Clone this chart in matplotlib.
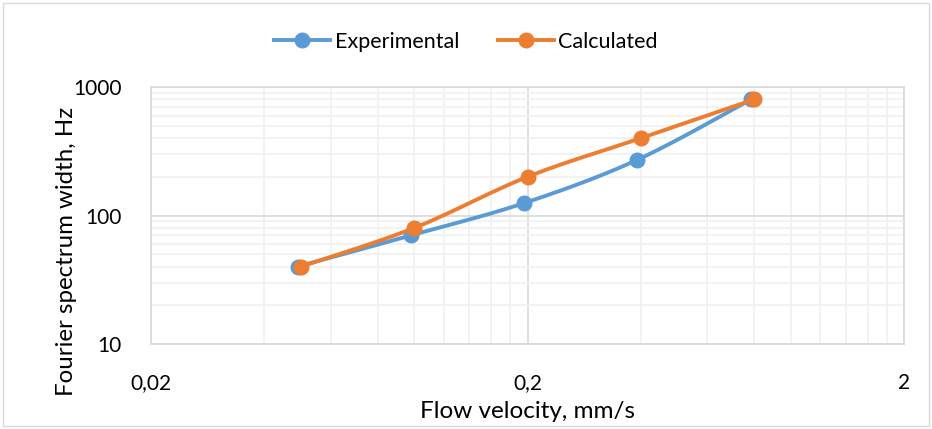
import numpy as np
import matplotlib.pyplot as plt
from matplotlib.ticker import FixedLocator, FixedFormatter, NullFormatter
from matplotlib.patches import Rectangle

# measured vs. calculated spectrum width
exp_velocity = [0.049, 0.098, 0.196, 0.39, 0.785]
exp_width = [40, 70, 125, 270, 800]
calc_velocity = [0.05, 0.1, 0.2, 0.4, 0.8]
calc_width = [40, 80, 200, 400, 800]

x_ticks = [0.02, 0.2, 2]
x_tick_labels = ["0,02", "0,2", "2"]
y_ticks = [10, 100, 1000]
y_tick_labels = ["10", "100", "1000"]

BLUE = "#5B9BD5"
ORANGE = "#ED7D31"
LW = 2.8
MS = 10.5


def smooth(xs, ys, n=30):
    # Catmull-Rom spline through the points in log-log space
    lx = np.log10(xs)
    ly = np.log10(ys)
    px = np.concatenate([[lx[0]], lx, [lx[-1]]])
    py = np.concatenate([[ly[0]], ly, [ly[-1]]])
    out_x, out_y = [], []
    for i in range(1, len(px) - 2):
        t = np.linspace(0, 1, n)
        for p, out in ((px, out_x), (py, out_y)):
            p0, p1, p2, p3 = p[i - 1], p[i], p[i + 1], p[i + 2]
            seg = 0.5 * ((2 * p1) + (-p0 + p2) * t
                         + (2 * p0 - 5 * p1 + 4 * p2 - p3) * t ** 2
                         + (-p0 + 3 * p1 - 3 * p2 + p3) * t ** 3)
            out.extend(seg)
    return 10 ** np.array(out_x), 10 ** np.array(out_y)


plt.rcParams["font.family"] = ["Lato", "DejaVu Sans"]

fig = plt.figure(figsize=(9.32, 4.29), dpi=100)
ax = fig.add_axes([151 / 932, 1 - 344 / 429, 753 / 932, 257 / 429])

# chart outline
fig.patches.append(Rectangle((3 / 932, 3 / 429), 926 / 932, 423 / 429,
                             transform=fig.transFigure, fill=False,
                             edgecolor="#D9D9D9", linewidth=1))

ax.set_xscale("log")
ax.set_yscale("log")
ax.set_xlim(0.02, 2)
ax.set_ylim(10, 1000)

# minor grid in steps of the axis minimum, like a spreadsheet log axis
x_minor = [m * 0.02 for m in range(2, 10)] + [m * 0.2 for m in range(2, 10)]
y_minor = [m * 10 for m in range(2, 10)] + [m * 100 for m in range(2, 10)]
ax.xaxis.set_major_locator(FixedLocator(x_ticks))
ax.xaxis.set_major_formatter(FixedFormatter(x_tick_labels))
ax.xaxis.set_minor_locator(FixedLocator(x_minor))
ax.xaxis.set_minor_formatter(NullFormatter())
ax.yaxis.set_major_locator(FixedLocator(y_ticks))
ax.yaxis.set_major_formatter(FixedFormatter(y_tick_labels))
ax.yaxis.set_minor_locator(FixedLocator(y_minor))
ax.yaxis.set_minor_formatter(NullFormatter())

ax.grid(which="major", color="#D9D9D9", linewidth=1.2)
ax.grid(which="minor", color="#F0F0F0", linewidth=1.2)
ax.set_axisbelow(True)
for side in ax.spines.values():
    side.set_color("#D9D9D9")
    side.set_linewidth(1.2)
ax.tick_params(which="both", length=0, labelsize=15, colors="#000000")
ax.tick_params(axis="x", pad=21)
ax.tick_params(axis="y", pad=21)

sx, sy = smooth(exp_velocity, exp_width)
ax.plot(sx, sy, color=BLUE, linewidth=LW, solid_capstyle="round")
ax.plot(exp_velocity, exp_width, "o", color=BLUE, markersize=MS)
cx, cy = smooth(calc_velocity, calc_width)
ax.plot(cx, cy, color=ORANGE, linewidth=LW, solid_capstyle="round")
ax.plot(calc_velocity, calc_width, "o", color=ORANGE, markersize=MS)

# legend handles: line with marker
ax.plot([], [], "-o", color=BLUE, linewidth=LW, markersize=MS, label="Experimental")
ax.plot([], [], "-o", color=ORANGE, linewidth=LW, markersize=MS, label="Calculated")
handles, labels = ax.get_legend_handles_labels()
fig.legend(handles, labels, loc="center", bbox_to_anchor=(0.5, 1 - 42 / 429),
           ncol=2, frameon=False, fontsize=15.5, handlelength=2.6,
           handletextpad=0.2, columnspacing=1.8)

ax.set_xlabel("Flow velocity, mm/s", fontsize=17.5, labelpad=6)
ax.set_ylabel("Fourier spectrum width, Hz", fontsize=17.3)
ax.yaxis.set_label_coords(-0.098, 0.36)

fig.savefig("out.png", dpi=100)
